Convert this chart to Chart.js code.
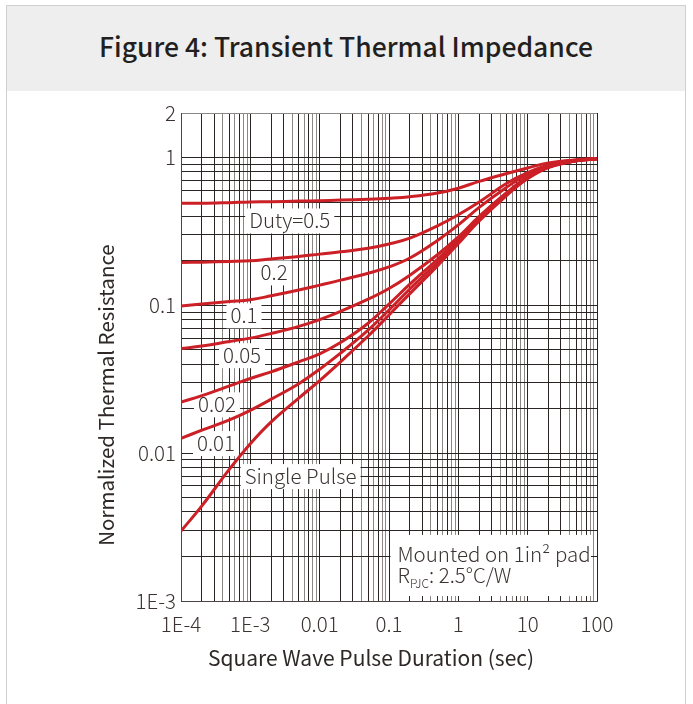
<!DOCTYPE html>
<html>
<head>
<meta charset="utf-8">
<script src="https://cdn.jsdelivr.net/npm/chart.js@4.4.0/dist/chart.umd.min.js"></script>
<style>
  body { margin: 0; background: #fff; font-family: "Noto Sans CJK SC", "Noto Sans", sans-serif; }
  .frame { position: absolute; left: 6px; top: 5px; width: 678px; height: 740px; border: 1px solid #cfcfcf; }
  .head { height: 85px; background: #eeeeee; text-align: center; line-height: 80px;
          font-size: 26.5px; font-weight: 500; color: #231f20; }
  #wrap { position: absolute; left: 0; top: 0; width: 693px; height: 704px; }
</style>
</head>
<body>
<div class="frame"><div class="head">Figure 4: Transient Thermal Impedance</div></div>
<div id="wrap"><canvas id="myChart"></canvas></div>
<script>
// pulse duration (sec)
var pulseTime = [1e-4, 2e-4, 5e-4, 1e-3, 2e-3, 5e-3, 0.01, 0.02, 0.05, 0.1, 0.2, 0.5, 1, 2, 5, 10, 20, 50, 100];

// normalized thermal resistance per duty cycle
var duty05 = [0.49, 0.49, 0.495, 0.50, 0.502, 0.507, 0.51, 0.515, 0.522, 0.53, 0.543, 0.575, 0.62, 0.69, 0.78, 0.85, 0.92, 0.965, 0.98];
var duty02 = [0.195, 0.196, 0.198, 0.20, 0.206, 0.214, 0.222, 0.23, 0.243, 0.26, 0.285, 0.345, 0.41, 0.50, 0.67, 0.79, 0.89, 0.96, 0.98];
var duty01 = [0.099, 0.102, 0.106, 0.109, 0.116, 0.127, 0.137, 0.148, 0.165, 0.182, 0.209, 0.275, 0.35, 0.46, 0.63, 0.77, 0.88, 0.955, 0.98];
var duty005 = [0.051, 0.053, 0.057, 0.060, 0.0645, 0.072, 0.080, 0.091, 0.110, 0.130, 0.160, 0.22, 0.29, 0.40, 0.58, 0.74, 0.87, 0.95, 0.98];
var duty002 = [0.0222, 0.0245, 0.0285, 0.032, 0.0355, 0.0415, 0.047, 0.056, 0.0757, 0.102, 0.139, 0.205, 0.28, 0.385, 0.565, 0.73, 0.865, 0.95, 0.98];
var duty001 = [0.0126, 0.0143, 0.0168, 0.0195, 0.0232, 0.0295, 0.037, 0.0475, 0.068, 0.093, 0.129, 0.195, 0.268, 0.38, 0.56, 0.725, 0.86, 0.95, 0.98];
var singlePulse = [0.00297, 0.0044, 0.0078, 0.0116, 0.0163, 0.0236, 0.031, 0.0415, 0.062, 0.086, 0.120, 0.185, 0.262, 0.372, 0.555, 0.72, 0.855, 0.95, 0.98];

var seriesNames = ['Duty=0.5', '0.2', '0.1', '0.05', '0.02', '0.01', 'Single Pulse'];
var seriesValues = [duty05, duty02, duty01, duty005, duty002, duty001, singlePulse];

// axis ticks
var xTickValues = [1e-4, 1e-3, 0.01, 0.1, 1, 10, 100];
var xTickLabels = ['1E-4', '1E-3', '0.01', '0.1', '1', '10', '100'];
var yTickValues = [0.001, 0.01, 0.1, 1, 2];
var yTickLabels = ['1E-3', '0.01', '0.1', '1', '2'];

// where each curve name sits (in data units)
var labelSpots = [
  [0.0037, 0.375],
  [0.0022, 0.167],
  [8.1e-4, 0.0856],
  [7.6e-4, 0.046],
  [3.3e-4, 0.0214],
  [3.2e-4, 0.0117],
  [0.0053, 0.007]
];

var textFont = '"Noto Sans CJK SC", "Noto Sans", sans-serif';
var textColor = '#3a3331';
var redLine = '#cc2027';

function logTicks(min, max) {
  var out = [];
  for (var e = Math.floor(Math.log10(min)); e <= Math.ceil(Math.log10(max)); e++) {
    for (var m = 1; m <= 9; m++) {
      var v = +(m * Math.pow(10, e)).toPrecision(3);
      if (v >= min * 0.999 && v <= max * 1.001) out.push(v);
    }
  }
  return out;
}

function labelFor(value, values, labels) {
  for (var i = 0; i < values.length; i++) {
    if (Math.abs(value - values[i]) < values[i] * 1e-6) return labels[i];
  }
  return '';
}

function gridColor(value) {
  var m = Math.round(value / Math.pow(10, Math.floor(Math.log10(value) + 1e-9)));
  return (m === 1 || m === 2 || m === 3 || m === 5 || m === 7) ? '#2a2422' : '#8c8787';
}

// white boxes with the curve names, plus the mounting note
var annotations = {
  id: 'annotations',
  beforeDatasetsDraw: function (chart) {
    var ctx = chart.ctx, xs = chart.scales.x, ys = chart.scales.y;
    ctx.save();
    ctx.font = '300 20.5px ' + textFont;
    ctx.textBaseline = 'middle';
    ctx.textAlign = 'center';
    for (var i = 0; i < seriesNames.length; i++) {
      var px = xs.getPixelForValue(labelSpots[i][0]);
      var py = ys.getPixelForValue(labelSpots[i][1]);
      var w = ctx.measureText(seriesNames[i]).width;
      ctx.fillStyle = '#ffffff';
      ctx.fillRect(px - w / 2 - 4, py - 12, w + 8, 25);
      ctx.fillStyle = textColor;
      ctx.fillText(seriesNames[i], px, py);
    }

    // note box
    var left = xs.getPixelForValue(0.105), right = xs.getPixelForValue(82);
    var top = ys.getPixelForValue(0.0028), bottom = ys.getPixelForValue(0.00108);
    ctx.fillStyle = '#ffffff';
    ctx.fillRect(left, top, right - left, bottom - top);
    ctx.fillStyle = textColor;
    ctx.textAlign = 'left';
    ctx.textBaseline = 'alphabetic';
    var tx = left + 7, line1 = top + 27, line2 = top + 48;
    ctx.font = '300 20.5px ' + textFont;
    ctx.fillText('Mounted on 1in\u00b2 pad', tx, line1);
    ctx.fillText('R', tx, line2);
    var rw = ctx.measureText('R').width;
    ctx.font = '300 12px ' + textFont;
    ctx.fillText('PJC', tx + rw, line2 + 5);
    var sw = ctx.measureText('PJC').width;
    ctx.font = '300 20.5px ' + textFont;
    ctx.fillText(': 2.5\u00b0C/W', tx + rw + sw, line2);
    ctx.restore();
  },
  afterDraw: function (chart) {
    var ctx = chart.ctx, a = chart.chartArea;
    ctx.save();
    ctx.fillStyle = '#2e2826';
    ctx.textAlign = 'center';
    ctx.textBaseline = 'middle';
    ctx.font = '400 21px ' + textFont;
    ctx.fillText('Square Wave Pulse Duration (sec)', a.left + 190, a.bottom + 57);
    ctx.font = '400 20.5px ' + textFont;
    ctx.translate(a.left - 75, a.top + 282);
    ctx.rotate(-Math.PI / 2);
    ctx.fillText('Normalized Thermal Resistance', 0, 0);
    ctx.restore();
  }
};

var datasets = seriesNames.map(function (name, i) {
  return {
    label: name,
    data: pulseTime.map(function (t, k) { return { x: t, y: seriesValues[i][k] }; }),
    borderColor: redLine,
    borderWidth: 3,
    pointRadius: 0,
    fill: false,
    tension: 0.4
  };
});

var ctx = document.getElementById('myChart').getContext('2d');
var chart = new Chart(ctx, {
  type: 'line',
  data: { datasets: datasets },
  options: {
    responsive: true,
    maintainAspectRatio: false,
    animation: false,
    layout: { padding: { left: 121, right: 96, top: 113, bottom: 58 } },
    plugins: { legend: { display: false }, tooltip: { enabled: false } },
    scales: {
      x: {
        type: 'logarithmic',
        min: 1e-4,
        max: 100,
        afterBuildTicks: function (scale) {
          scale.ticks = logTicks(scale.min, scale.max).map(function (v) { return { value: v }; });
        },
        afterFit: function (scale) { scale.height = 45; },
        ticks: {
          autoSkip: false,
          maxRotation: 0,
          minRotation: 0,
          padding: 11,
          color: textColor,
          font: { family: textFont, size: 20.5, weight: '300' },
          callback: function (v) { return labelFor(v, xTickValues, xTickLabels); }
        },
        grid: {
          drawTicks: false,
          lineWidth: 1,
          color: function (c) { return c.tick ? gridColor(c.tick.value) : '#2a2422'; }
        },
        border: { color: '#4a4442', width: 1 }
      },
      y: {
        type: 'logarithmic',
        min: 0.001,
        max: 2,
        afterBuildTicks: function (scale) {
          scale.ticks = logTicks(scale.min, scale.max).map(function (v) { return { value: v }; });
        },
        afterFit: function (scale) { scale.width = 60; },
        ticks: {
          autoSkip: false,
          padding: 5,
          color: textColor,
          font: { family: textFont, size: 20.5, weight: '300' },
          callback: function (v) { return labelFor(v, yTickValues, yTickLabels); }
        },
        grid: {
          drawTicks: false,
          lineWidth: 1,
          color: function (c) {
            if (!c.tick) return '#2a2422';
            return c.tick.value >= 2 ? '#8c8787' : '#2a2422';
          }
        },
        border: { color: '#4a4442', width: 1 }
      }
    }
  },
  plugins: [annotations]
});
</script>
</body>
</html>
